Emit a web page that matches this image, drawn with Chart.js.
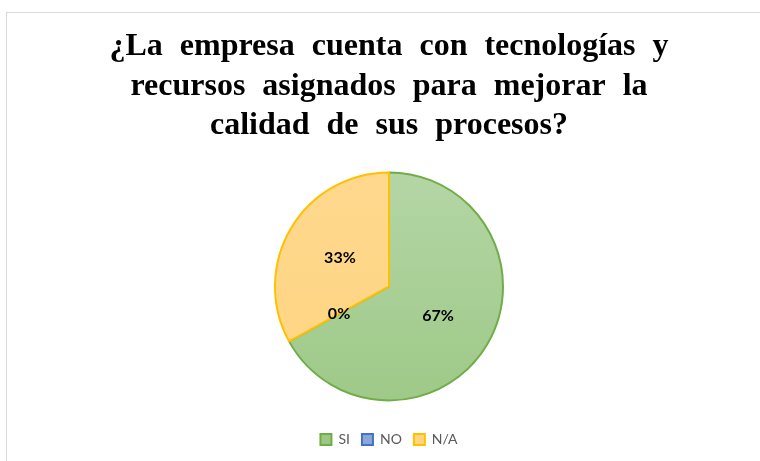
<!DOCTYPE html>
<html>
<head>
<meta charset="utf-8">
<script src="https://cdn.jsdelivr.net/npm/chart.js@4.4.0/dist/chart.umd.min.js"></script>
<style>
  html, body { margin: 0; padding: 0; background: #fff; }
  #wrap { position: relative; width: 760px; height: 461px; overflow: hidden; }
  #frame { position: absolute; left: 6px; top: 12px; width: 800px; height: 500px; border: 1px solid #d9d9d9; }
  #chart1 { position: absolute; left: 0; top: 0; }
</style>
</head>
<body>
<div id="wrap">
  <div id="frame"></div>
  <canvas id="chart1" width="760" height="461"></canvas>
</div>
<script>
var titleLines = ["¿La empresa cuenta con tecnologías y", "recursos asignados para mejorar la", "calidad de sus procesos?"];
var answers = ["SI", "NO", "N/A"];
var percents = [67, 0, 33];
var borderColors = ["#70ad47", "#4472c4", "#ffc000"];
var fillTop = ["#b6d7a8", "#9db5e0", "#ffd88f"];
var fillBottom = ["#9cc885", "#8aa7da", "#ffd580"];

// wide word gaps in the title, like the word file it came from
var titleSpacing = {
    id: "titleSpacing",
    beforeDraw: function(chart){
        chart.ctx.wordSpacing = "9px";
    },
    beforeDatasetsDraw: function(chart){
        chart.ctx.wordSpacing = "0px";
    }
};

// labels in the middle of each slice, like the excel data labels
var sliceLabels = {
    id: "sliceLabels",
    afterDatasetsDraw: function(chart){
        var ctx = chart.ctx;
        var meta = chart.getDatasetMeta(0);
        ctx.save();
        ctx.font = "bold 16px Lato";
        ctx.fillStyle = "#000";
        ctx.textAlign = "center";
        ctx.textBaseline = "middle";
        meta.data.forEach(function(arc, i){
            var pos = arc.tooltipPosition();
            ctx.fillText(percents[i] + "%", pos.x, pos.y);
        });
        ctx.restore();
    }
};

function sliceFill(context){
    var i = context.dataIndex;
    var area = context.chart.chartArea;
    if (!area) return fillTop[i];
    var g = context.chart.ctx.createLinearGradient(0, area.top, 0, area.bottom);
    g.addColorStop(0, fillTop[i]);
    g.addColorStop(1, fillBottom[i]);
    return g;
}

var ctx = document.getElementById("chart1");
var chartGraph = new Chart(ctx, {
    type: "pie",
    data: {
        labels: answers,
        datasets: [{
            data: percents,
            backgroundColor: sliceFill,
            borderColor: borderColors,
            borderWidth: 2,
            radius: 114
        }]
    },
    plugins: [titleSpacing, sliceLabels],
    options: {
        responsive: false,
        animation: false,
        layout: {
            padding: { left: 18, right: 0, top: 0, bottom: 4.5 }
        },
        plugins: {
            tooltip: { enabled: false },
            title: {
                display: true,
                text: titleLines,
                color: "#000",
                font: { family: "Liberation Serif", size: 32, weight: "bold", lineHeight: 1.23 },
                padding: { top: 27.5, bottom: 6.8 }
            },
            legend: {
                position: "bottom",
                labels: {
                    color: "#595959",
                    font: { family: "Lato", size: 14 },
                    boxWidth: 11,
                    boxHeight: 11,
                    padding: 12
                }
            }
        }
    }
});
</script>
</body>
</html>
